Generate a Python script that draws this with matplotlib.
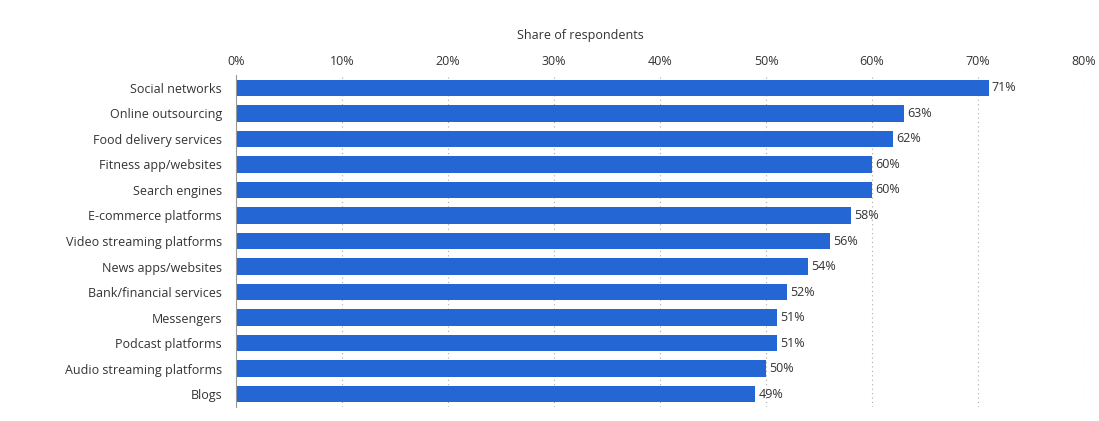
import matplotlib
matplotlib.use("Agg")
import matplotlib.pyplot as plt

categories = ["Social networks", "Online outsourcing", "Food delivery services",
              "Fitness app/websites", "Search engines", "E-commerce platforms",
              "Video streaming platforms", "News apps/websites", "Bank/financial services",
              "Messengers", "Podcast platforms", "Audio streaming platforms", "Blogs"]
values = [71, 63, 62, 60, 60, 58, 56, 54, 52, 51, 51, 50, 49]
ticks = [0, 10, 20, 30, 40, 50, 60, 70, 80]
tick_labels = [f"{t}%" for t in ticks]

plt.rcParams['font.family'] = ['Open Sans', 'DejaVu Sans']
fig = plt.figure(figsize=(10.99, 4.21), dpi=100)
ax = fig.add_axes([0.2147, 0.0338, 0.7717, 0.7875])

y = list(range(len(categories)))
ax.barh(y, values, height=0.63, color="#2466d3", zorder=3)
for yi, v in zip(y, values):
    ax.text(v + 0.3, yi, f"{v}%", va="center", ha="left", fontsize=9, color="#333333", zorder=4)

ax.set_ylim(len(categories) - 0.5, -0.5)
ax.set_xlim(0, 80)
ax.set_yticks(y)
ax.set_yticklabels(categories, fontsize=9, color="#333333")
ax.set_xticks(ticks)
ax.set_xticklabels(tick_labels, fontsize=9, color="#333333")
ax.xaxis.tick_top()
ax.tick_params(axis="y", length=0, pad=10)
ax.tick_params(axis="x", length=0, pad=5)
ax.grid(axis="x", linestyle=(0, (1, 3)), color="#aaaaaa", linewidth=0.8, zorder=0)
for s in ["top", "right", "bottom"]:
    ax.spines[s].set_visible(False)
ax.spines["left"].set_color("#999999")
ax.spines["left"].set_zorder(5)

fig.text(580 / 1099, 1 - 35 / 421, "Share of respondents", ha="center", va="center",
         fontsize=9, color="#333333")

fig.savefig("out.png", dpi=100)
